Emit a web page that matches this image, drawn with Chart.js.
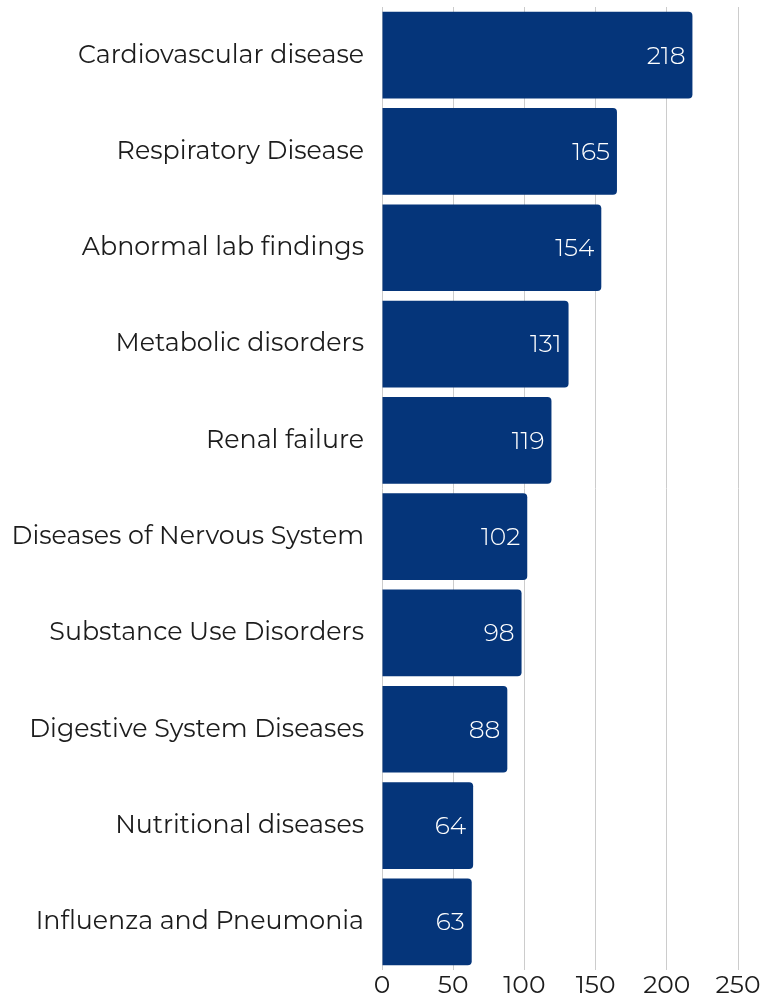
<!DOCTYPE html>
<html>
<head>
<meta charset="utf-8">
<script src="https://cdn.jsdelivr.net/npm/chart.js@4"></script>
<style>
  html, body { margin: 0; padding: 0; background: #fff; }
  #wrap { width: 762px; height: 997px; }
</style>
</head>
<body>
<div id="wrap"><canvas id="causes_chart"></canvas></div>
<script>
const categories = [
  "Cardiovascular disease",
  "Respiratory Disease",
  "Abnormal lab findings",
  "Metabolic disorders",
  "Renal failure",
  "Diseases of Nervous System",
  "Substance Use Disorders",
  "Digestive System Diseases",
  "Nutritional diseases",
  "Influenza and Pneumonia"
];
const counts = [218, 165, 154, 131, 119, 102, 98, 88, 64, 63];
const xTicks = [0, 50, 100, 150, 200, 250];

const FONT = 'Montserrat, "DejaVu Sans", sans-serif';

// white value labels drawn at the inner end of each bar
const barValues = {
  id: "barValues",
  afterDatasetsDraw(chart) {
    const ctx = chart.ctx;
    const meta = chart.getDatasetMeta(0);
    ctx.save();
    ctx.fillStyle = "#ffffff";
    ctx.font = "300 25px " + FONT;
    ctx.textAlign = "right";
    ctx.textBaseline = "middle";
    meta.data.forEach((bar, i) => {
      const p = bar.getProps(["x", "y"], true);
      ctx.fillText(String(counts[i]), p.x - 7, p.y + 1);
    });
    ctx.restore();
  }
};

const causes_ctx = document.getElementById("causes_chart").getContext("2d");
const myChart_causes = new Chart(causes_ctx, {
  type: "bar",
  data: {
    labels: categories,
    datasets: [{
      data: counts,
      backgroundColor: "#05357a",
      borderRadius: 4,
      borderSkipped: "start",
      barPercentage: 0.9,
      categoryPercentage: 1.0
    }]
  },
  options: {
    indexAxis: "y",
    responsive: true,
    maintainAspectRatio: false,
    animation: false,
    layout: { padding: { top: 7, right: 24, left: 12, bottom: 0 } },
    plugins: {
      legend: { display: false },
      tooltip: { enabled: false }
    },
    scales: {
      x: {
        min: 0,
        max: 250,
        afterBuildTicks(axis) {
          axis.ticks = xTicks.map(v => ({ value: v }));
        },
        afterFit(scale) {
          scale.height = 27;
          scale.paddingLeft = 0;
          scale.paddingRight = 0;
        },
        grid: { color: "#cccccc", drawTicks: false },
        border: { display: false },
        ticks: {
          color: "#1c1c1c",
          font: { family: FONT, size: 25, lineHeight: 1.0 },
          padding: 3
        }
      },
      y: {
        afterFit(scale) {
          scale.width = 370;
          scale.paddingTop = 0;
          scale.paddingBottom = 0;
        },
        grid: { display: false, drawTicks: false },
        border: { display: false },
        ticks: {
          color: "#1c1c1c",
          font: { family: FONT, size: 25.3 },
          padding: 18
        }
      }
    }
  },
  plugins: [barValues]
});
</script>
</body>
</html>
